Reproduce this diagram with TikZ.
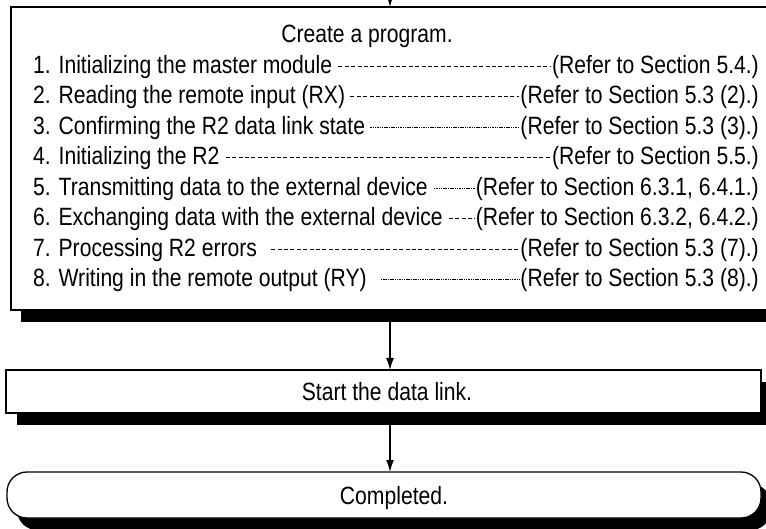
\documentclass[tikz,border=0pt]{standalone}
\usepackage{fontspec}
\setmainfont{Liberation Sans}[FakeStretch=0.845]
\usepackage{tikz}
\usetikzlibrary{arrows.meta}

\tikzset{
  box/.style={draw=black, fill=white, line width=1.3pt},
  shadow/.style={fill=black},
  txt/.style={inner sep=0pt, text height=18pt, text depth=0pt, font=\fontsize{25}{30}\selectfont},
  dA/.style={dash pattern=on 4pt off 2.4pt},
  dB/.style={dash pattern=on 1.5pt off 0.8pt},
  flow/.style={-{Latex[length=12pt,width=8pt]}, line width=1.3pt}
}

\begin{document}
\begin{tikzpicture}[x=1pt,y=1pt]
\clip (0,0) rectangle (766,-529);

% program box
\fill[shadow] (21,-19) rectangle (810,-322);
\draw[box] (11,-7) rectangle (800,-310);
\coordinate (top) at (390,0);
\coordinate (p1) at (390,-7);
\coordinate (p2) at (390,-322);
\node[txt] (prog) at (367,-34) {Create a program.};

\foreach \k/\lhs/\rhs/\gap/\dsh in {
  1/{1. Initializing the master module}/{(Refer to Section 5.4.)}/6/dA,
  2/{2. Reading the remote input (RX)}/{(Refer to Section 5.3 (2).)}/5/dA,
  3/{3. Confirming the R2 data link state}/{(Refer to Section 5.3 (3).)}/5/dB,
  4/{4. Initializing the R2}/{(Refer to Section 5.5.)}/6/dA,
  5/{5. Transmitting data to the external device}/{(Refer to Section 6.3.1, 6.4.1.)}/6/dB,
  6/{6. Exchanging data with the external device}/{(Refer to Section 6.3.2, 6.4.2.)}/6/dA,
  7/{7. Processing R2 errors}/{(Refer to Section 5.3 (7).)}/14/dA,
  8/{8. Writing in the remote output (RY)}/{(Refer to Section 5.3 (8).)}/14/dB}{
  \node[txt, anchor=west] (a\k) at (33,-34-30.5*\k) {\lhs};
  \node[txt, anchor=east] (r\k) at (759,-34-30.5*\k) {\rhs};
  \draw[\dsh, line width=1pt, shorten <=\gap pt, shorten >=1pt]
    ([yshift=-2pt]a\k.east) -- ([yshift=-2pt]r\k.west);
}

% data link box
\fill[shadow] (17,-382) rectangle (772,-425);
\draw[box] (6,-370) rectangle (761,-413);
\node[txt] (link) at (387,-391.5) {Start the data link.};
\coordinate (l1) at (390,-370);
\coordinate (l2) at (390,-425);

% end box
\fill[shadow, rounded corners=20pt] (17,-484) rectangle (771,-530);
\draw[box, rounded corners=20pt] (7,-472) rectangle (761,-518);
\node[txt] (done) at (394,-495) {Completed.};
\coordinate (d1) at (390,-472);

\draw[flow] (top) -- (p1);
\draw[flow] (p2) -- (l1);
\draw[flow] (l2) -- (d1);
\end{tikzpicture}
\end{document}
